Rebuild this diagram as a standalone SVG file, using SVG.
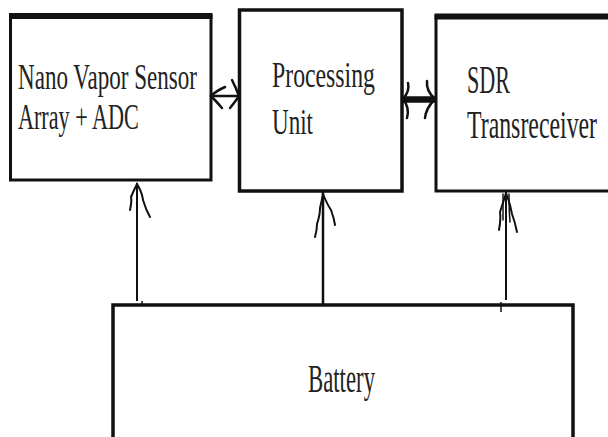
<svg xmlns="http://www.w3.org/2000/svg" width="608" height="437" viewBox="0 0 608 437">
<style>
.box{fill:#fff;stroke:#111;stroke-width:3}
.bar{stroke:#111;stroke-width:6;fill:none}
.t{font-family:"Liberation Serif","Times New Roman",serif;fill:#222;font-size:36px}
.t2{font-size:39px}
.ln{stroke:#111;stroke-width:2;fill:none}
.hd{stroke:#111;stroke-width:2;fill:none;stroke-linecap:round}
</style>
<rect width="608" height="437" fill="#fff"/>
<g id="sensor">
<rect class="box" x="10.5" y="16" width="200.5" height="164"/>
<line class="bar" x1="9" y1="16" x2="212.5" y2="16"/>
<text class="t" transform="translate(18,89) scale(0.641,1)">Nano Vapor Sensor</text>
<text class="t" transform="translate(18,129) scale(0.615,1)">Array + ADC</text>
</g>
<g id="processing">
<rect class="box" x="239.5" y="10" width="162.5" height="181" style="stroke-width:3.5"/>
<text class="t" transform="translate(272,87) scale(0.66,1)">Processing</text>
<text class="t" transform="translate(272,134) scale(0.641,1)">Unit</text>
</g>
<g id="sdr">
<rect class="box" x="436" y="16.5" width="200" height="174.5"/>
<line class="bar" x1="434.5" y1="16.5" x2="610" y2="16.5"/>
<text class="t t2" transform="translate(467,93) scale(0.567,1)">SDR</text>
<text class="t t2" transform="translate(467,138) scale(0.611,1)">Transreceiver</text>
</g>
<g id="battery">
<rect class="box" x="113" y="305" width="460" height="200" style="stroke-width:3.5"/>
<text class="t t2" transform="translate(308,392) scale(0.584,1)">Battery</text>
</g>
<g id="connectors">
<line x1="211" y1="96" x2="239" y2="96" style="stroke:#111;stroke-width:2.5"/>
<path class="hd" d="M225,87 Q216,91 211,96 Q216,101 222,108" style="stroke-width:2.5"/>
<path class="hd" d="M232,80 Q236,88 239,96 Q235,102 230,108" style="stroke-width:2.5"/>
<line x1="402" y1="99.5" x2="436" y2="99.5" style="stroke:#111;stroke-width:6.5"/>
<path class="hd" d="M408,83 Q410,91 403,99 Q410,108 407,118" style="stroke-width:2.5"/>
<path class="hd" d="M427,81 Q426,91 435,99 Q426,108 425,118" style="stroke-width:2.5"/>
<line class="ln" x1="137" y1="183" x2="137" y2="301"/>
<path class="hd" d="M130,210 Q132,200 131,197 Q134,190 137,184 Q142,192 143,200 Q146,210 150,217"/>
<line x1="142" y1="301" x2="142" y2="306" style="stroke:#111;stroke-width:1.5"/>
<line class="ln" x1="323" y1="192" x2="323" y2="305" style="stroke-width:2.5"/>
<path class="hd" d="M315,237 Q317,230 317,224 Q320,215 320,208 Q322,200 323,194 Q327,204 331,210 Q334,218 335,225"/>
<line class="ln" x1="506" y1="191" x2="506" y2="300"/>
<path class="hd" d="M499,230 Q501,220 500,212 Q504,200 506,193 Q510,203 512,214 Q515,222 517,232"/>
<path class="hd" d="M503,194 Q503,210 503,220" style="stroke-width:1.5"/>
<path class="hd" d="M509,194 Q509,210 510,222" style="stroke-width:1.5"/>
<line x1="501" y1="302" x2="501" y2="312" style="stroke:#111;stroke-width:1.5"/>
</g>
</svg>
